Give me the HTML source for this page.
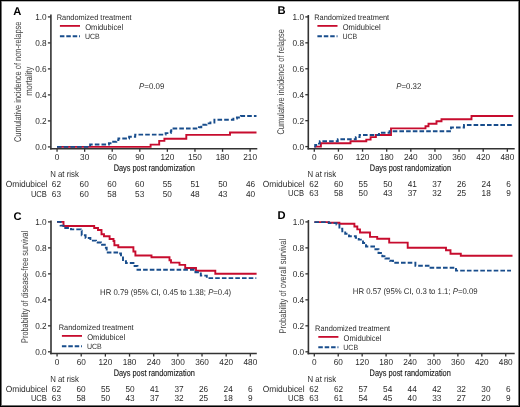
<!DOCTYPE html>
<html><head><meta charset="utf-8"><style>
html,body{margin:0;padding:0;background:#fff;}
svg{display:block;will-change:transform;}
text{font-family:"Liberation Sans", sans-serif;text-rendering:geometricPrecision;}
.t{stroke:#333;stroke-width:0.2;}
</style></head><body>
<svg width="520" height="407" viewBox="0 0 520 407">
<rect x="0" y="0" width="520" height="407" fill="#fff"/>
<line x1="50.90" y1="14.50" x2="50.90" y2="149.55" stroke="#333" stroke-width="1.6" />
<line x1="50.10" y1="148.80" x2="257.30" y2="148.80" stroke="#333" stroke-width="1.5" />
<line x1="47.90" y1="16.90" x2="50.90" y2="16.90" stroke="#333" stroke-width="1.3" />
<text transform="translate(46.60,19.90) scale(0.95,1)" font-size="8.7" text-anchor="end" fill="#2b2b2b" >1.0</text>
<line x1="47.90" y1="42.90" x2="50.90" y2="42.90" stroke="#333" stroke-width="1.3" />
<text transform="translate(46.60,45.90) scale(0.95,1)" font-size="8.7" text-anchor="end" fill="#2b2b2b" >0.8</text>
<line x1="47.90" y1="68.90" x2="50.90" y2="68.90" stroke="#333" stroke-width="1.3" />
<text transform="translate(46.60,71.90) scale(0.95,1)" font-size="8.7" text-anchor="end" fill="#2b2b2b" >0.6</text>
<line x1="47.90" y1="94.90" x2="50.90" y2="94.90" stroke="#333" stroke-width="1.3" />
<text transform="translate(46.60,97.90) scale(0.95,1)" font-size="8.7" text-anchor="end" fill="#2b2b2b" >0.4</text>
<line x1="47.90" y1="120.90" x2="50.90" y2="120.90" stroke="#333" stroke-width="1.3" />
<text transform="translate(46.60,123.90) scale(0.95,1)" font-size="8.7" text-anchor="end" fill="#2b2b2b" >0.2</text>
<line x1="47.90" y1="146.90" x2="50.90" y2="146.90" stroke="#333" stroke-width="1.3" />
<text transform="translate(46.60,149.90) scale(0.95,1)" font-size="8.7" text-anchor="end" fill="#2b2b2b" >0.0</text>
<line x1="57.06" y1="148.80" x2="57.06" y2="151.80" stroke="#333" stroke-width="1.3" />
<text transform="translate(57.06,160.00) scale(0.95,1)" font-size="8.7" text-anchor="middle" fill="#2b2b2b" >0</text>
<text transform="translate(51.85,186.80) scale(0.95,1)" font-size="8.7" text-anchor="start" fill="#2b2b2b" >62</text>
<text transform="translate(51.85,196.50) scale(0.95,1)" font-size="8.7" text-anchor="start" fill="#2b2b2b" >63</text>
<line x1="84.64" y1="148.80" x2="84.64" y2="151.80" stroke="#333" stroke-width="1.3" />
<text transform="translate(84.64,160.00) scale(0.95,1)" font-size="8.7" text-anchor="middle" fill="#2b2b2b" >30</text>
<text transform="translate(79.58,186.80) scale(0.95,1)" font-size="8.7" text-anchor="start" fill="#2b2b2b" >60</text>
<text transform="translate(79.58,196.50) scale(0.95,1)" font-size="8.7" text-anchor="start" fill="#2b2b2b" >60</text>
<line x1="112.22" y1="148.80" x2="112.22" y2="151.80" stroke="#333" stroke-width="1.3" />
<text transform="translate(112.22,160.00) scale(0.95,1)" font-size="8.7" text-anchor="middle" fill="#2b2b2b" >60</text>
<text transform="translate(107.31,186.80) scale(0.95,1)" font-size="8.7" text-anchor="start" fill="#2b2b2b" >60</text>
<text transform="translate(107.31,196.50) scale(0.95,1)" font-size="8.7" text-anchor="start" fill="#2b2b2b" >58</text>
<line x1="139.80" y1="148.80" x2="139.80" y2="151.80" stroke="#333" stroke-width="1.3" />
<text transform="translate(139.80,160.00) scale(0.95,1)" font-size="8.7" text-anchor="middle" fill="#2b2b2b" >90</text>
<text transform="translate(135.04,186.80) scale(0.95,1)" font-size="8.7" text-anchor="start" fill="#2b2b2b" >60</text>
<text transform="translate(135.04,196.50) scale(0.95,1)" font-size="8.7" text-anchor="start" fill="#2b2b2b" >53</text>
<line x1="167.38" y1="148.80" x2="167.38" y2="151.80" stroke="#333" stroke-width="1.3" />
<text transform="translate(167.38,160.00) scale(0.95,1)" font-size="8.7" text-anchor="middle" fill="#2b2b2b" >120</text>
<text transform="translate(162.77,186.80) scale(0.95,1)" font-size="8.7" text-anchor="start" fill="#2b2b2b" >55</text>
<text transform="translate(162.77,196.50) scale(0.95,1)" font-size="8.7" text-anchor="start" fill="#2b2b2b" >50</text>
<line x1="194.96" y1="148.80" x2="194.96" y2="151.80" stroke="#333" stroke-width="1.3" />
<text transform="translate(194.96,160.00) scale(0.95,1)" font-size="8.7" text-anchor="middle" fill="#2b2b2b" >150</text>
<text transform="translate(190.50,186.80) scale(0.95,1)" font-size="8.7" text-anchor="start" fill="#2b2b2b" >51</text>
<text transform="translate(190.50,196.50) scale(0.95,1)" font-size="8.7" text-anchor="start" fill="#2b2b2b" >48</text>
<line x1="222.54" y1="148.80" x2="222.54" y2="151.80" stroke="#333" stroke-width="1.3" />
<text transform="translate(222.54,160.00) scale(0.95,1)" font-size="8.7" text-anchor="middle" fill="#2b2b2b" >180</text>
<text transform="translate(218.23,186.80) scale(0.95,1)" font-size="8.7" text-anchor="start" fill="#2b2b2b" >50</text>
<text transform="translate(218.23,196.50) scale(0.95,1)" font-size="8.7" text-anchor="start" fill="#2b2b2b" >43</text>
<line x1="250.12" y1="148.80" x2="250.12" y2="151.80" stroke="#333" stroke-width="1.3" />
<text transform="translate(250.12,160.00) scale(0.95,1)" font-size="8.7" text-anchor="middle" fill="#2b2b2b" >210</text>
<text transform="translate(245.96,186.80) scale(0.95,1)" font-size="8.7" text-anchor="start" fill="#2b2b2b" >46</text>
<text transform="translate(245.96,196.50) scale(0.95,1)" font-size="8.7" text-anchor="start" fill="#2b2b2b" >40</text>
<text x="13.30" y="14.60" font-size="11.2" text-anchor="start" fill="#000" font-weight="bold" >A</text>
<text x="113.65" y="170.90" font-size="9.3" text-anchor="start" fill="#1a1a1a" font-weight="normal" textLength="81.2" lengthAdjust="spacingAndGlyphs" stroke="#1a1a1a" stroke-width="0.15">Days post randomization</text>
<text x="50.20" y="176.90" font-size="8.8" text-anchor="start" fill="#2b2b2b" font-weight="normal" textLength="28.6" lengthAdjust="spacingAndGlyphs" >N at risk</text>
<text x="5.70" y="186.80" font-size="8.9" text-anchor="start" fill="#2b2b2b" font-weight="normal" textLength="41.8" lengthAdjust="spacingAndGlyphs" >Omidubicel</text>
<text x="30.90" y="196.50" font-size="8.7" text-anchor="start" fill="#2b2b2b" font-weight="normal" textLength="16" lengthAdjust="spacingAndGlyphs" >UCB</text>
<text x="56.70" y="19.90" font-size="7.9" text-anchor="start" fill="#2b2b2b" font-weight="normal" textLength="75" lengthAdjust="spacingAndGlyphs" >Randomized treatment</text>
<line x1="59.90" y1="25.90" x2="80.00" y2="25.90" stroke="#c70c2e" stroke-width="1.8" />
<line x1="59.90" y1="36.30" x2="80.00" y2="36.30" stroke="#184d8c" stroke-width="1.9" stroke-dasharray="4.5 1.9"/>
<text x="85.20" y="29.50" font-size="8.3" text-anchor="start" fill="#2b2b2b" font-weight="normal" textLength="37.9" lengthAdjust="spacingAndGlyphs" >Omidubicel</text>
<text x="84.90" y="39.00" font-size="7.7" text-anchor="start" fill="#2b2b2b" font-weight="normal" textLength="14.8" lengthAdjust="spacingAndGlyphs" >UCB</text>
<path d="M57,146.9 H150.6 V144.6 H159.2 V140.9 H164.4 V138.8 H186.3 V134.9 H230 V132.5 H256.5" fill="none" stroke="#c70c2e" stroke-width="1.9"/>
<path d="M57,146.9 H90.1 V144.5 H108.9 V143.2 H111.6 V141.8 H116.3 V140.1 H118.4 V138.5 H129.1 V136.7 H135.2 V134.6 H165.6 V133.1 H170.8 V131.3 H171.3 V128.5 H199 V127.3 H201.3 V124.8 H206.4 V123.4 H210.4 V122.5 H214.4 V119.8 H233.4 V118.6 H236.9 V117.5 H240.9 V116 H256.5" fill="none" stroke="#184d8c" stroke-width="1.9" stroke-dasharray="4.6 2.1"/>
<text transform="translate(21.3,81.85) rotate(-90)" font-size="9.7" text-anchor="middle" fill="#444" textLength="120.5" lengthAdjust="spacingAndGlyphs">Cumulative incidence of non-relapse</text>
<text transform="translate(32.3,81.25) rotate(-90)" font-size="9.7" text-anchor="middle" fill="#444" textLength="29.1" lengthAdjust="spacingAndGlyphs">mortality</text>
<text x="139" y="89.3" font-size="8.3" fill="#2b2b2b" textLength="25.3" lengthAdjust="spacingAndGlyphs"><tspan font-style="italic">P</tspan>=0.09</text>
<line x1="308.30" y1="15.00" x2="308.30" y2="149.45" stroke="#333" stroke-width="1.6" />
<line x1="307.50" y1="148.70" x2="514.70" y2="148.70" stroke="#333" stroke-width="1.5" />
<line x1="305.30" y1="16.90" x2="308.30" y2="16.90" stroke="#333" stroke-width="1.3" />
<text transform="translate(304.00,19.90) scale(0.95,1)" font-size="8.7" text-anchor="end" fill="#2b2b2b" >1.0</text>
<line x1="305.30" y1="42.84" x2="308.30" y2="42.84" stroke="#333" stroke-width="1.3" />
<text transform="translate(304.00,45.84) scale(0.95,1)" font-size="8.7" text-anchor="end" fill="#2b2b2b" >0.8</text>
<line x1="305.30" y1="68.78" x2="308.30" y2="68.78" stroke="#333" stroke-width="1.3" />
<text transform="translate(304.00,71.78) scale(0.95,1)" font-size="8.7" text-anchor="end" fill="#2b2b2b" >0.6</text>
<line x1="305.30" y1="94.72" x2="308.30" y2="94.72" stroke="#333" stroke-width="1.3" />
<text transform="translate(304.00,97.72) scale(0.95,1)" font-size="8.7" text-anchor="end" fill="#2b2b2b" >0.4</text>
<line x1="305.30" y1="120.66" x2="308.30" y2="120.66" stroke="#333" stroke-width="1.3" />
<text transform="translate(304.00,123.66) scale(0.95,1)" font-size="8.7" text-anchor="end" fill="#2b2b2b" >0.2</text>
<line x1="305.30" y1="146.60" x2="308.30" y2="146.60" stroke="#333" stroke-width="1.3" />
<text transform="translate(304.00,149.60) scale(0.95,1)" font-size="8.7" text-anchor="end" fill="#2b2b2b" >0.0</text>
<line x1="314.30" y1="148.70" x2="314.30" y2="151.70" stroke="#333" stroke-width="1.3" />
<text transform="translate(314.30,159.90) scale(0.95,1)" font-size="8.7" text-anchor="middle" fill="#2b2b2b" >0</text>
<text transform="translate(309.35,186.80) scale(0.95,1)" font-size="8.7" text-anchor="start" fill="#2b2b2b" >62</text>
<text transform="translate(309.35,196.40) scale(0.95,1)" font-size="8.7" text-anchor="start" fill="#2b2b2b" >63</text>
<line x1="338.43" y1="148.70" x2="338.43" y2="151.70" stroke="#333" stroke-width="1.3" />
<text transform="translate(338.43,159.90) scale(0.95,1)" font-size="8.7" text-anchor="middle" fill="#2b2b2b" >60</text>
<text transform="translate(333.95,186.80) scale(0.95,1)" font-size="8.7" text-anchor="start" fill="#2b2b2b" >60</text>
<text transform="translate(333.95,196.40) scale(0.95,1)" font-size="8.7" text-anchor="start" fill="#2b2b2b" >58</text>
<line x1="362.56" y1="148.70" x2="362.56" y2="151.70" stroke="#333" stroke-width="1.3" />
<text transform="translate(362.56,159.90) scale(0.95,1)" font-size="8.7" text-anchor="middle" fill="#2b2b2b" >120</text>
<text transform="translate(358.55,186.80) scale(0.95,1)" font-size="8.7" text-anchor="start" fill="#2b2b2b" >55</text>
<text transform="translate(358.55,196.40) scale(0.95,1)" font-size="8.7" text-anchor="start" fill="#2b2b2b" >50</text>
<line x1="386.69" y1="148.70" x2="386.69" y2="151.70" stroke="#333" stroke-width="1.3" />
<text transform="translate(386.69,159.90) scale(0.95,1)" font-size="8.7" text-anchor="middle" fill="#2b2b2b" >180</text>
<text transform="translate(383.15,186.80) scale(0.95,1)" font-size="8.7" text-anchor="start" fill="#2b2b2b" >50</text>
<text transform="translate(383.15,196.40) scale(0.95,1)" font-size="8.7" text-anchor="start" fill="#2b2b2b" >43</text>
<line x1="410.82" y1="148.70" x2="410.82" y2="151.70" stroke="#333" stroke-width="1.3" />
<text transform="translate(410.82,159.90) scale(0.95,1)" font-size="8.7" text-anchor="middle" fill="#2b2b2b" >240</text>
<text transform="translate(407.75,186.80) scale(0.95,1)" font-size="8.7" text-anchor="start" fill="#2b2b2b" >41</text>
<text transform="translate(407.75,196.40) scale(0.95,1)" font-size="8.7" text-anchor="start" fill="#2b2b2b" >37</text>
<line x1="434.95" y1="148.70" x2="434.95" y2="151.70" stroke="#333" stroke-width="1.3" />
<text transform="translate(434.95,159.90) scale(0.95,1)" font-size="8.7" text-anchor="middle" fill="#2b2b2b" >300</text>
<text transform="translate(432.35,186.80) scale(0.95,1)" font-size="8.7" text-anchor="start" fill="#2b2b2b" >37</text>
<text transform="translate(432.35,196.40) scale(0.95,1)" font-size="8.7" text-anchor="start" fill="#2b2b2b" >32</text>
<line x1="459.08" y1="148.70" x2="459.08" y2="151.70" stroke="#333" stroke-width="1.3" />
<text transform="translate(459.08,159.90) scale(0.95,1)" font-size="8.7" text-anchor="middle" fill="#2b2b2b" >360</text>
<text transform="translate(456.95,186.80) scale(0.95,1)" font-size="8.7" text-anchor="start" fill="#2b2b2b" >26</text>
<text transform="translate(456.95,196.40) scale(0.95,1)" font-size="8.7" text-anchor="start" fill="#2b2b2b" >25</text>
<line x1="483.21" y1="148.70" x2="483.21" y2="151.70" stroke="#333" stroke-width="1.3" />
<text transform="translate(483.21,159.90) scale(0.95,1)" font-size="8.7" text-anchor="middle" fill="#2b2b2b" >420</text>
<text transform="translate(481.55,186.80) scale(0.95,1)" font-size="8.7" text-anchor="start" fill="#2b2b2b" >24</text>
<text transform="translate(481.55,196.40) scale(0.95,1)" font-size="8.7" text-anchor="start" fill="#2b2b2b" >18</text>
<line x1="507.34" y1="148.70" x2="507.34" y2="151.70" stroke="#333" stroke-width="1.3" />
<text transform="translate(507.34,159.90) scale(0.95,1)" font-size="8.7" text-anchor="middle" fill="#2b2b2b" >480</text>
<text transform="translate(506.15,186.80) scale(0.95,1)" font-size="8.7" text-anchor="start" fill="#2b2b2b" >6</text>
<text transform="translate(506.15,196.40) scale(0.95,1)" font-size="8.7" text-anchor="start" fill="#2b2b2b" >9</text>
<text x="277.50" y="14.40" font-size="11.2" text-anchor="start" fill="#000" font-weight="bold" >B</text>
<text x="369.80" y="170.80" font-size="9.3" text-anchor="start" fill="#1a1a1a" font-weight="normal" textLength="81.2" lengthAdjust="spacingAndGlyphs" stroke="#1a1a1a" stroke-width="0.15">Days post randomization</text>
<text x="307.50" y="176.90" font-size="8.8" text-anchor="start" fill="#2b2b2b" font-weight="normal" textLength="28.6" lengthAdjust="spacingAndGlyphs" >N at risk</text>
<text x="262.80" y="186.80" font-size="8.9" text-anchor="start" fill="#2b2b2b" font-weight="normal" textLength="41.8" lengthAdjust="spacingAndGlyphs" >Omidubicel</text>
<text x="288.00" y="196.40" font-size="8.7" text-anchor="start" fill="#2b2b2b" font-weight="normal" textLength="16" lengthAdjust="spacingAndGlyphs" >UCB</text>
<text x="314.20" y="19.90" font-size="7.9" text-anchor="start" fill="#2b2b2b" font-weight="normal" textLength="75" lengthAdjust="spacingAndGlyphs" >Randomized treatment</text>
<line x1="317.40" y1="25.90" x2="337.50" y2="25.90" stroke="#c70c2e" stroke-width="1.8" />
<line x1="317.40" y1="36.30" x2="337.50" y2="36.30" stroke="#184d8c" stroke-width="1.9" stroke-dasharray="4.5 1.9"/>
<text x="342.70" y="29.50" font-size="8.3" text-anchor="start" fill="#2b2b2b" font-weight="normal" textLength="37.9" lengthAdjust="spacingAndGlyphs" >Omidubicel</text>
<text x="342.40" y="39.00" font-size="7.7" text-anchor="start" fill="#2b2b2b" font-weight="normal" textLength="14.8" lengthAdjust="spacingAndGlyphs" >UCB</text>
<path d="M314.3,146.6 H320.9 V143.2 H350.5 V141.3 H366.3 V139.6 H370.6 V137.1 H375.9 V135 H391 V128.4 H425.5 V126.25 H428.5 V123.75 H436.5 V121.25 H441.5 V119.25 H471.5 V116 H513.2" fill="none" stroke="#c70c2e" stroke-width="1.9"/>
<path d="M314.3,146.6 H315.2 V145 H316.2 V143.6 H319.8 V141.3 H337.8 V139.2 H355.8 V137.1 H359.6 V135 H379 V132.8 H389.6 V131.2 H451 V127.5 H464 V125 H511.8" fill="none" stroke="#184d8c" stroke-width="1.9" stroke-dasharray="4.6 2.1"/>
<text transform="translate(283.8,81.8) rotate(-90)" font-size="9.7" text-anchor="middle" fill="#444" textLength="105.6" lengthAdjust="spacingAndGlyphs">Cumulative incidence of relapse</text>
<text x="396.2" y="89.4" font-size="8.3" fill="#2b2b2b" textLength="25.1" lengthAdjust="spacingAndGlyphs"><tspan font-style="italic">P</tspan>=0.32</text>
<line x1="51.00" y1="220.40" x2="51.00" y2="354.35" stroke="#333" stroke-width="1.6" />
<line x1="50.20" y1="353.60" x2="256.80" y2="353.60" stroke="#333" stroke-width="1.5" />
<line x1="48.00" y1="221.90" x2="51.00" y2="221.90" stroke="#333" stroke-width="1.3" />
<text transform="translate(46.70,224.90) scale(0.95,1)" font-size="8.7" text-anchor="end" fill="#2b2b2b" >1.0</text>
<line x1="48.00" y1="247.88" x2="51.00" y2="247.88" stroke="#333" stroke-width="1.3" />
<text transform="translate(46.70,250.88) scale(0.95,1)" font-size="8.7" text-anchor="end" fill="#2b2b2b" >0.8</text>
<line x1="48.00" y1="273.86" x2="51.00" y2="273.86" stroke="#333" stroke-width="1.3" />
<text transform="translate(46.70,276.86) scale(0.95,1)" font-size="8.7" text-anchor="end" fill="#2b2b2b" >0.6</text>
<line x1="48.00" y1="299.84" x2="51.00" y2="299.84" stroke="#333" stroke-width="1.3" />
<text transform="translate(46.70,302.84) scale(0.95,1)" font-size="8.7" text-anchor="end" fill="#2b2b2b" >0.4</text>
<line x1="48.00" y1="325.82" x2="51.00" y2="325.82" stroke="#333" stroke-width="1.3" />
<text transform="translate(46.70,328.82) scale(0.95,1)" font-size="8.7" text-anchor="end" fill="#2b2b2b" >0.2</text>
<line x1="48.00" y1="351.80" x2="51.00" y2="351.80" stroke="#333" stroke-width="1.3" />
<text transform="translate(46.70,354.80) scale(0.95,1)" font-size="8.7" text-anchor="end" fill="#2b2b2b" >0.0</text>
<line x1="57.06" y1="353.60" x2="57.06" y2="356.60" stroke="#333" stroke-width="1.3" />
<text transform="translate(57.06,364.80) scale(0.95,1)" font-size="8.7" text-anchor="middle" fill="#2b2b2b" >0</text>
<text transform="translate(51.85,391.80) scale(0.95,1)" font-size="8.7" text-anchor="start" fill="#2b2b2b" >62</text>
<text transform="translate(51.85,401.00) scale(0.95,1)" font-size="8.7" text-anchor="start" fill="#2b2b2b" >63</text>
<line x1="81.22" y1="353.60" x2="81.22" y2="356.60" stroke="#333" stroke-width="1.3" />
<text transform="translate(81.22,364.80) scale(0.95,1)" font-size="8.7" text-anchor="middle" fill="#2b2b2b" >60</text>
<text transform="translate(76.38,391.80) scale(0.95,1)" font-size="8.7" text-anchor="start" fill="#2b2b2b" >60</text>
<text transform="translate(76.38,401.00) scale(0.95,1)" font-size="8.7" text-anchor="start" fill="#2b2b2b" >58</text>
<line x1="105.38" y1="353.60" x2="105.38" y2="356.60" stroke="#333" stroke-width="1.3" />
<text transform="translate(105.38,364.80) scale(0.95,1)" font-size="8.7" text-anchor="middle" fill="#2b2b2b" >120</text>
<text transform="translate(100.91,391.80) scale(0.95,1)" font-size="8.7" text-anchor="start" fill="#2b2b2b" >55</text>
<text transform="translate(100.91,401.00) scale(0.95,1)" font-size="8.7" text-anchor="start" fill="#2b2b2b" >50</text>
<line x1="129.54" y1="353.60" x2="129.54" y2="356.60" stroke="#333" stroke-width="1.3" />
<text transform="translate(129.54,364.80) scale(0.95,1)" font-size="8.7" text-anchor="middle" fill="#2b2b2b" >180</text>
<text transform="translate(125.44,391.80) scale(0.95,1)" font-size="8.7" text-anchor="start" fill="#2b2b2b" >50</text>
<text transform="translate(125.44,401.00) scale(0.95,1)" font-size="8.7" text-anchor="start" fill="#2b2b2b" >43</text>
<line x1="153.70" y1="353.60" x2="153.70" y2="356.60" stroke="#333" stroke-width="1.3" />
<text transform="translate(153.70,364.80) scale(0.95,1)" font-size="8.7" text-anchor="middle" fill="#2b2b2b" >240</text>
<text transform="translate(149.97,391.80) scale(0.95,1)" font-size="8.7" text-anchor="start" fill="#2b2b2b" >41</text>
<text transform="translate(149.97,401.00) scale(0.95,1)" font-size="8.7" text-anchor="start" fill="#2b2b2b" >37</text>
<line x1="177.86" y1="353.60" x2="177.86" y2="356.60" stroke="#333" stroke-width="1.3" />
<text transform="translate(177.86,364.80) scale(0.95,1)" font-size="8.7" text-anchor="middle" fill="#2b2b2b" >300</text>
<text transform="translate(174.50,391.80) scale(0.95,1)" font-size="8.7" text-anchor="start" fill="#2b2b2b" >37</text>
<text transform="translate(174.50,401.00) scale(0.95,1)" font-size="8.7" text-anchor="start" fill="#2b2b2b" >32</text>
<line x1="202.02" y1="353.60" x2="202.02" y2="356.60" stroke="#333" stroke-width="1.3" />
<text transform="translate(202.02,364.80) scale(0.95,1)" font-size="8.7" text-anchor="middle" fill="#2b2b2b" >360</text>
<text transform="translate(199.03,391.80) scale(0.95,1)" font-size="8.7" text-anchor="start" fill="#2b2b2b" >26</text>
<text transform="translate(199.03,401.00) scale(0.95,1)" font-size="8.7" text-anchor="start" fill="#2b2b2b" >25</text>
<line x1="226.18" y1="353.60" x2="226.18" y2="356.60" stroke="#333" stroke-width="1.3" />
<text transform="translate(226.18,364.80) scale(0.95,1)" font-size="8.7" text-anchor="middle" fill="#2b2b2b" >420</text>
<text transform="translate(223.56,391.80) scale(0.95,1)" font-size="8.7" text-anchor="start" fill="#2b2b2b" >24</text>
<text transform="translate(223.56,401.00) scale(0.95,1)" font-size="8.7" text-anchor="start" fill="#2b2b2b" >18</text>
<line x1="250.34" y1="353.60" x2="250.34" y2="356.60" stroke="#333" stroke-width="1.3" />
<text transform="translate(250.34,364.80) scale(0.95,1)" font-size="8.7" text-anchor="middle" fill="#2b2b2b" >480</text>
<text transform="translate(248.09,391.80) scale(0.95,1)" font-size="8.7" text-anchor="start" fill="#2b2b2b" >6</text>
<text transform="translate(248.09,401.00) scale(0.95,1)" font-size="8.7" text-anchor="start" fill="#2b2b2b" >9</text>
<text x="13.60" y="219.50" font-size="11.2" text-anchor="start" fill="#000" font-weight="bold" >C</text>
<text x="113.65" y="375.90" font-size="9.3" text-anchor="start" fill="#1a1a1a" font-weight="normal" textLength="81.2" lengthAdjust="spacingAndGlyphs" stroke="#1a1a1a" stroke-width="0.15">Days post randomization</text>
<text x="50.20" y="381.80" font-size="8.8" text-anchor="start" fill="#2b2b2b" font-weight="normal" textLength="28.6" lengthAdjust="spacingAndGlyphs" >N at risk</text>
<text x="5.70" y="391.80" font-size="8.9" text-anchor="start" fill="#2b2b2b" font-weight="normal" textLength="41.8" lengthAdjust="spacingAndGlyphs" >Omidubicel</text>
<text x="30.90" y="401.00" font-size="8.7" text-anchor="start" fill="#2b2b2b" font-weight="normal" textLength="16" lengthAdjust="spacingAndGlyphs" >UCB</text>
<text x="58.70" y="329.90" font-size="7.9" text-anchor="start" fill="#2b2b2b" font-weight="normal" textLength="75" lengthAdjust="spacingAndGlyphs" >Randomized treatment</text>
<line x1="61.90" y1="335.90" x2="82.00" y2="335.90" stroke="#c70c2e" stroke-width="1.8" />
<line x1="61.90" y1="346.30" x2="82.00" y2="346.30" stroke="#184d8c" stroke-width="1.9" stroke-dasharray="4.5 1.9"/>
<text x="87.20" y="339.50" font-size="8.3" text-anchor="start" fill="#2b2b2b" font-weight="normal" textLength="37.9" lengthAdjust="spacingAndGlyphs" >Omidubicel</text>
<text x="86.90" y="349.00" font-size="7.7" text-anchor="start" fill="#2b2b2b" font-weight="normal" textLength="14.8" lengthAdjust="spacingAndGlyphs" >UCB</text>
<path d="M57,221.9 H63.5 V226 H94.2 V228 H98 V230 H101.5 V234.2 H104 V236.2 H109.6 V239 H113.5 V241 H114.4 V245.2 H118.3 V247.3 H133.4 V251.5 H135.4 V255.5 H151.5 V257.3 H169.5 V260.2 H171 V262.6 H179.5 V264.9 H185.2 V268 H196 V270.7 H215.3 V273.8 H256.6" fill="none" stroke="#c70c2e" stroke-width="1.9"/>
<path d="M57,221.9 H60.6 V225.6 H63.5 V228 H71 V229.4 H80.8 V230.8 H81.7 V235.2 H85.6 V238 H90.4 V240.6 H96 V242.5 H101 V244.8 H104.8 V247.7 H106.7 V252.5 H118.3 V253.5 H121 V256.3 H123 V261.2 H126 V263 H134.6 V266 H137.5 V269.8 H195.4 V272.2 H200.8 V275.6 H206.8 V278.1 H256.3" fill="none" stroke="#184d8c" stroke-width="1.9" stroke-dasharray="4.6 2.1"/>
<text transform="translate(28.4,286.85) rotate(-90)" font-size="9.7" text-anchor="middle" fill="#444" textLength="112.3" lengthAdjust="spacingAndGlyphs">Probability of disease-free survival</text>
<text x="100.1" y="294.8" font-size="8.3" fill="#2b2b2b" textLength="131.1" lengthAdjust="spacingAndGlyphs">HR 0.79 (95% CI, 0.45 to 1.38; <tspan font-style="italic">P</tspan>=0.4)</text>
<line x1="308.40" y1="220.00" x2="308.40" y2="354.35" stroke="#333" stroke-width="1.6" />
<line x1="307.60" y1="353.60" x2="514.70" y2="353.60" stroke="#333" stroke-width="1.5" />
<line x1="305.40" y1="221.90" x2="308.40" y2="221.90" stroke="#333" stroke-width="1.3" />
<text transform="translate(304.10,224.90) scale(0.95,1)" font-size="8.7" text-anchor="end" fill="#2b2b2b" >1.0</text>
<line x1="305.40" y1="247.88" x2="308.40" y2="247.88" stroke="#333" stroke-width="1.3" />
<text transform="translate(304.10,250.88) scale(0.95,1)" font-size="8.7" text-anchor="end" fill="#2b2b2b" >0.8</text>
<line x1="305.40" y1="273.86" x2="308.40" y2="273.86" stroke="#333" stroke-width="1.3" />
<text transform="translate(304.10,276.86) scale(0.95,1)" font-size="8.7" text-anchor="end" fill="#2b2b2b" >0.6</text>
<line x1="305.40" y1="299.84" x2="308.40" y2="299.84" stroke="#333" stroke-width="1.3" />
<text transform="translate(304.10,302.84) scale(0.95,1)" font-size="8.7" text-anchor="end" fill="#2b2b2b" >0.4</text>
<line x1="305.40" y1="325.82" x2="308.40" y2="325.82" stroke="#333" stroke-width="1.3" />
<text transform="translate(304.10,328.82) scale(0.95,1)" font-size="8.7" text-anchor="end" fill="#2b2b2b" >0.2</text>
<line x1="305.40" y1="351.80" x2="308.40" y2="351.80" stroke="#333" stroke-width="1.3" />
<text transform="translate(304.10,354.80) scale(0.95,1)" font-size="8.7" text-anchor="end" fill="#2b2b2b" >0.0</text>
<line x1="314.30" y1="353.60" x2="314.30" y2="356.60" stroke="#333" stroke-width="1.3" />
<text transform="translate(314.30,364.80) scale(0.95,1)" font-size="8.7" text-anchor="middle" fill="#2b2b2b" >0</text>
<text transform="translate(309.30,391.80) scale(0.95,1)" font-size="8.7" text-anchor="start" fill="#2b2b2b" >62</text>
<text transform="translate(309.30,401.00) scale(0.95,1)" font-size="8.7" text-anchor="start" fill="#2b2b2b" >63</text>
<line x1="338.23" y1="353.60" x2="338.23" y2="356.60" stroke="#333" stroke-width="1.3" />
<text transform="translate(338.23,364.80) scale(0.95,1)" font-size="8.7" text-anchor="middle" fill="#2b2b2b" >60</text>
<text transform="translate(333.88,391.80) scale(0.95,1)" font-size="8.7" text-anchor="start" fill="#2b2b2b" >62</text>
<text transform="translate(333.88,401.00) scale(0.95,1)" font-size="8.7" text-anchor="start" fill="#2b2b2b" >61</text>
<line x1="362.16" y1="353.60" x2="362.16" y2="356.60" stroke="#333" stroke-width="1.3" />
<text transform="translate(362.16,364.80) scale(0.95,1)" font-size="8.7" text-anchor="middle" fill="#2b2b2b" >120</text>
<text transform="translate(358.46,391.80) scale(0.95,1)" font-size="8.7" text-anchor="start" fill="#2b2b2b" >57</text>
<text transform="translate(358.46,401.00) scale(0.95,1)" font-size="8.7" text-anchor="start" fill="#2b2b2b" >54</text>
<line x1="386.09" y1="353.60" x2="386.09" y2="356.60" stroke="#333" stroke-width="1.3" />
<text transform="translate(386.09,364.80) scale(0.95,1)" font-size="8.7" text-anchor="middle" fill="#2b2b2b" >180</text>
<text transform="translate(383.04,391.80) scale(0.95,1)" font-size="8.7" text-anchor="start" fill="#2b2b2b" >54</text>
<text transform="translate(383.04,401.00) scale(0.95,1)" font-size="8.7" text-anchor="start" fill="#2b2b2b" >45</text>
<line x1="410.02" y1="353.60" x2="410.02" y2="356.60" stroke="#333" stroke-width="1.3" />
<text transform="translate(410.02,364.80) scale(0.95,1)" font-size="8.7" text-anchor="middle" fill="#2b2b2b" >240</text>
<text transform="translate(407.62,391.80) scale(0.95,1)" font-size="8.7" text-anchor="start" fill="#2b2b2b" >44</text>
<text transform="translate(407.62,401.00) scale(0.95,1)" font-size="8.7" text-anchor="start" fill="#2b2b2b" >40</text>
<line x1="433.95" y1="353.60" x2="433.95" y2="356.60" stroke="#333" stroke-width="1.3" />
<text transform="translate(433.95,364.80) scale(0.95,1)" font-size="8.7" text-anchor="middle" fill="#2b2b2b" >300</text>
<text transform="translate(432.20,391.80) scale(0.95,1)" font-size="8.7" text-anchor="start" fill="#2b2b2b" >42</text>
<text transform="translate(432.20,401.00) scale(0.95,1)" font-size="8.7" text-anchor="start" fill="#2b2b2b" >33</text>
<line x1="457.88" y1="353.60" x2="457.88" y2="356.60" stroke="#333" stroke-width="1.3" />
<text transform="translate(457.88,364.80) scale(0.95,1)" font-size="8.7" text-anchor="middle" fill="#2b2b2b" >360</text>
<text transform="translate(456.78,391.80) scale(0.95,1)" font-size="8.7" text-anchor="start" fill="#2b2b2b" >32</text>
<text transform="translate(456.78,401.00) scale(0.95,1)" font-size="8.7" text-anchor="start" fill="#2b2b2b" >27</text>
<line x1="481.81" y1="353.60" x2="481.81" y2="356.60" stroke="#333" stroke-width="1.3" />
<text transform="translate(481.81,364.80) scale(0.95,1)" font-size="8.7" text-anchor="middle" fill="#2b2b2b" >420</text>
<text transform="translate(481.36,391.80) scale(0.95,1)" font-size="8.7" text-anchor="start" fill="#2b2b2b" >30</text>
<text transform="translate(481.36,401.00) scale(0.95,1)" font-size="8.7" text-anchor="start" fill="#2b2b2b" >20</text>
<line x1="505.74" y1="353.60" x2="505.74" y2="356.60" stroke="#333" stroke-width="1.3" />
<text transform="translate(505.74,364.80) scale(0.95,1)" font-size="8.7" text-anchor="middle" fill="#2b2b2b" >480</text>
<text transform="translate(505.94,391.80) scale(0.95,1)" font-size="8.7" text-anchor="start" fill="#2b2b2b" >6</text>
<text transform="translate(505.94,401.00) scale(0.95,1)" font-size="8.7" text-anchor="start" fill="#2b2b2b" >9</text>
<text x="277.60" y="219.30" font-size="11.2" text-anchor="start" fill="#000" font-weight="bold" >D</text>
<text x="369.60" y="375.90" font-size="9.3" text-anchor="start" fill="#1a1a1a" font-weight="normal" textLength="81.2" lengthAdjust="spacingAndGlyphs" stroke="#1a1a1a" stroke-width="0.15">Days post randomization</text>
<text x="307.50" y="381.80" font-size="8.8" text-anchor="start" fill="#2b2b2b" font-weight="normal" textLength="28.6" lengthAdjust="spacingAndGlyphs" >N at risk</text>
<text x="262.80" y="391.80" font-size="8.9" text-anchor="start" fill="#2b2b2b" font-weight="normal" textLength="41.8" lengthAdjust="spacingAndGlyphs" >Omidubicel</text>
<text x="288.00" y="401.00" font-size="8.7" text-anchor="start" fill="#2b2b2b" font-weight="normal" textLength="16" lengthAdjust="spacingAndGlyphs" >UCB</text>
<text x="315.10" y="330.90" font-size="7.9" text-anchor="start" fill="#2b2b2b" font-weight="normal" textLength="75" lengthAdjust="spacingAndGlyphs" >Randomized treatment</text>
<line x1="318.30" y1="336.90" x2="338.40" y2="336.90" stroke="#c70c2e" stroke-width="1.8" />
<line x1="318.30" y1="347.30" x2="338.40" y2="347.30" stroke="#184d8c" stroke-width="1.9" stroke-dasharray="4.5 1.9"/>
<text x="343.60" y="340.50" font-size="8.3" text-anchor="start" fill="#2b2b2b" font-weight="normal" textLength="37.9" lengthAdjust="spacingAndGlyphs" >Omidubicel</text>
<text x="343.30" y="350.00" font-size="7.7" text-anchor="start" fill="#2b2b2b" font-weight="normal" textLength="14.8" lengthAdjust="spacingAndGlyphs" >UCB</text>
<path d="M314.4,222.1 H328.8 V222.7 H339.4 V223.7 H354.4 V226.5 H357.3 V229.4 H360 V232.5 H370 V236.9 H377.2 V238.8 H389.2 V242.6 H407.7 V247.7 H446 V250.2 H450.5 V253.7 H460.8 V255.8 H512.5" fill="none" stroke="#c70c2e" stroke-width="1.9"/>
<path d="M314.4,222.1 H328.8 V223.1 H336.5 V224.6 H339.4 V228.8 H342.3 V231.3 H345.2 V233.8 H349 V236.2 H355.8 V237.7 H358.7 V239.6 H363 V243 H366 V246.5 H375.4 V249.2 H378.5 V253 H382.3 V256.2 H385.4 V258.5 H390 V260.8 H393 V262.8 H415.4 V265.7 H428.5 V267.7 H456 V270.6 H511" fill="none" stroke="#184d8c" stroke-width="1.9" stroke-dasharray="4.6 2.1"/>
<text transform="translate(286.0,286.2) rotate(-90)" font-size="9.7" text-anchor="middle" fill="#444" textLength="94.6" lengthAdjust="spacingAndGlyphs">Probability of overall survival</text>
<text x="352.8" y="294.3" font-size="8.3" fill="#2b2b2b" textLength="124.8" lengthAdjust="spacingAndGlyphs">HR 0.57 (95% CI, 0.3 to 1.1; <tspan font-style="italic">P</tspan>=0.09</text>
<g shape-rendering="crispEdges">
<rect x="0" y="1" width="520" height="1" fill="#b4b4b4"/>
<rect x="1" y="0" width="1" height="407" fill="#747474"/>
<rect x="518" y="0" width="1" height="407" fill="#787878"/>
<rect x="0" y="405" width="520" height="1" fill="#707070"/>
<rect x="0" y="0" width="520" height="1" fill="#000"/>
<rect x="0" y="0" width="1" height="407" fill="#000"/>
<rect x="519" y="0" width="1" height="407" fill="#000"/>
<rect x="0" y="406" width="520" height="1" fill="#000"/>
</g>
</svg>
</body></html>
